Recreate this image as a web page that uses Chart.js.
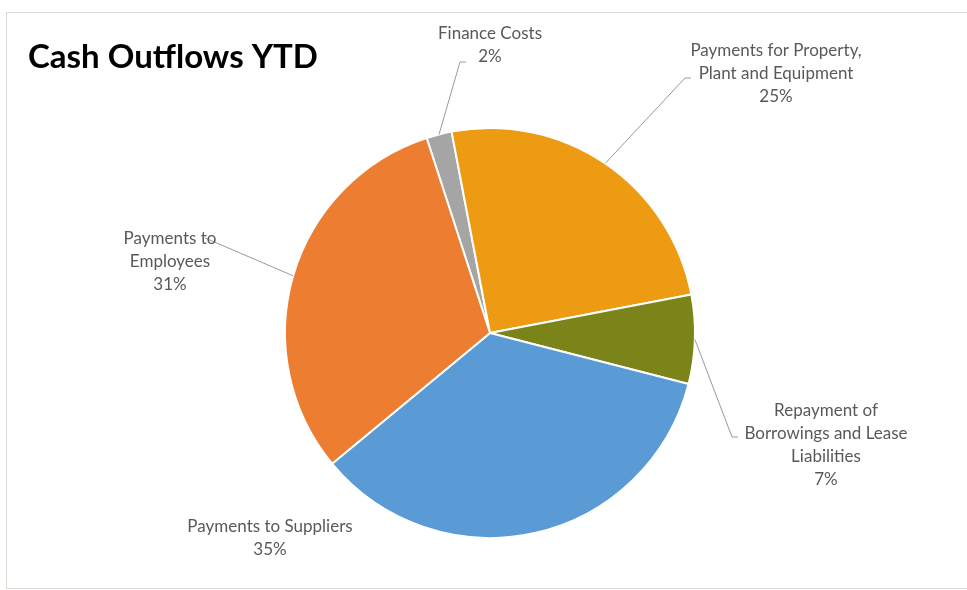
<!DOCTYPE html>
<html>
<head>
<meta charset="utf-8">
<script src="https://cdn.jsdelivr.net/npm/chart.js@4/dist/chart.umd.min.js"></script>
<style>
  body { margin: 0; background: #fff; }
  #wrap { position: relative; width: 967px; height: 590px; }
</style>
</head>
<body>
<div id="wrap"><canvas id="myCanvas" width="967" height="590"></canvas></div>
<script>
// slices, clockwise from the Finance Costs wedge
const categories = [
  'Finance Costs',
  'Payments for Property, Plant and Equipment',
  'Repayment of Borrowings and Lease Liabilities',
  'Payments to Suppliers',
  'Payments to Employees',
];
const labelLines = [
  ['Finance Costs'],
  ['Payments for Property,', 'Plant and Equipment'],
  ['Repayment of', 'Borrowings and Lease', 'Liabilities'],
  ['Payments to Suppliers'],
  ['Payments to', 'Employees'],
];
const shares = [2, 25, 7, 35, 31];
const colours = ['#A5A5A5', '#EC9B13', '#7A8418', '#5B9BD5', '#ED7D31'];

// where each data label sits (centre of first line) and where its leader line bends
const labelPos = [
  { x: 490, y: 34, elbow: [460, 62], tail: 466 },
  { x: 776, y: 51, elbow: [685, 78], tail: 691 },
  { x: 826, y: 411, elbow: [732, 437], tail: 738 },
  { x: 270, y: 527, elbow: null },
  { x: 170, y: 239, elbow: [205, 238], tail: 205 },
];

const FONT = 'Lato, "Open Sans", sans-serif';

const frameAndTitle = {
  id: 'frameAndTitle',
  beforeDraw(chart) {
    const ctx = chart.ctx;
    ctx.save();
    ctx.fillStyle = '#fff';
    ctx.fillRect(0, 0, chart.width, chart.height);
    ctx.strokeStyle = '#dcdcd2';
    ctx.lineWidth = 1;
    ctx.strokeRect(6.5, 12.5, 980, 576);
    ctx.fillStyle = '#000';
    ctx.font = 'bold 33px ' + FONT;
    ctx.textBaseline = 'alphabetic';
    ctx.fillText('Cash Outflows YTD', 28, 68);
    ctx.restore();
  },
};

const pieLabels = {
  id: 'pieLabels',
  afterDraw(chart) {
    const ctx = chart.ctx;
    const arcs = chart.getDatasetMeta(0).data;
    ctx.save();
    arcs.forEach((arc, i) => {
      const p = labelPos[i];
      if (p.elbow) {
        const mid = (arc.startAngle + arc.endAngle) / 2;
        const sx = arc.x + Math.cos(mid) * arc.outerRadius;
        const sy = arc.y + Math.sin(mid) * arc.outerRadius;
        ctx.strokeStyle = '#9a9a9a';
        ctx.lineWidth = 1;
        ctx.beginPath();
        ctx.moveTo(sx, sy);
        ctx.lineTo(p.elbow[0], p.elbow[1]);
        ctx.lineTo(p.tail, p.elbow[1]);
        ctx.stroke();
      }
      ctx.fillStyle = '#595959';
      ctx.font = '17px ' + FONT;
      ctx.textAlign = 'center';
      ctx.textBaseline = 'middle';
      const lines = labelLines[i].concat([shares[i] + '%']);
      lines.forEach((t, k) => ctx.fillText(t, p.x, p.y + k * 23));
    });
    ctx.restore();
  },
};

new Chart(document.getElementById('myCanvas'), {
  type: 'pie',
  data: {
    labels: categories,
    datasets: [{
      data: shares,
      backgroundColor: colours,
      borderColor: '#fff',
      borderWidth: 2,
    }],
  },
  options: {
    responsive: false,
    animation: false,
    rotation: -18,
    layout: { padding: { left: 284, right: 271, top: 127, bottom: 51 } },
    plugins: {
      legend: { display: false },
      tooltip: { enabled: false },
    },
  },
  plugins: [frameAndTitle, pieLabels],
});
</script>
</body>
</html>
